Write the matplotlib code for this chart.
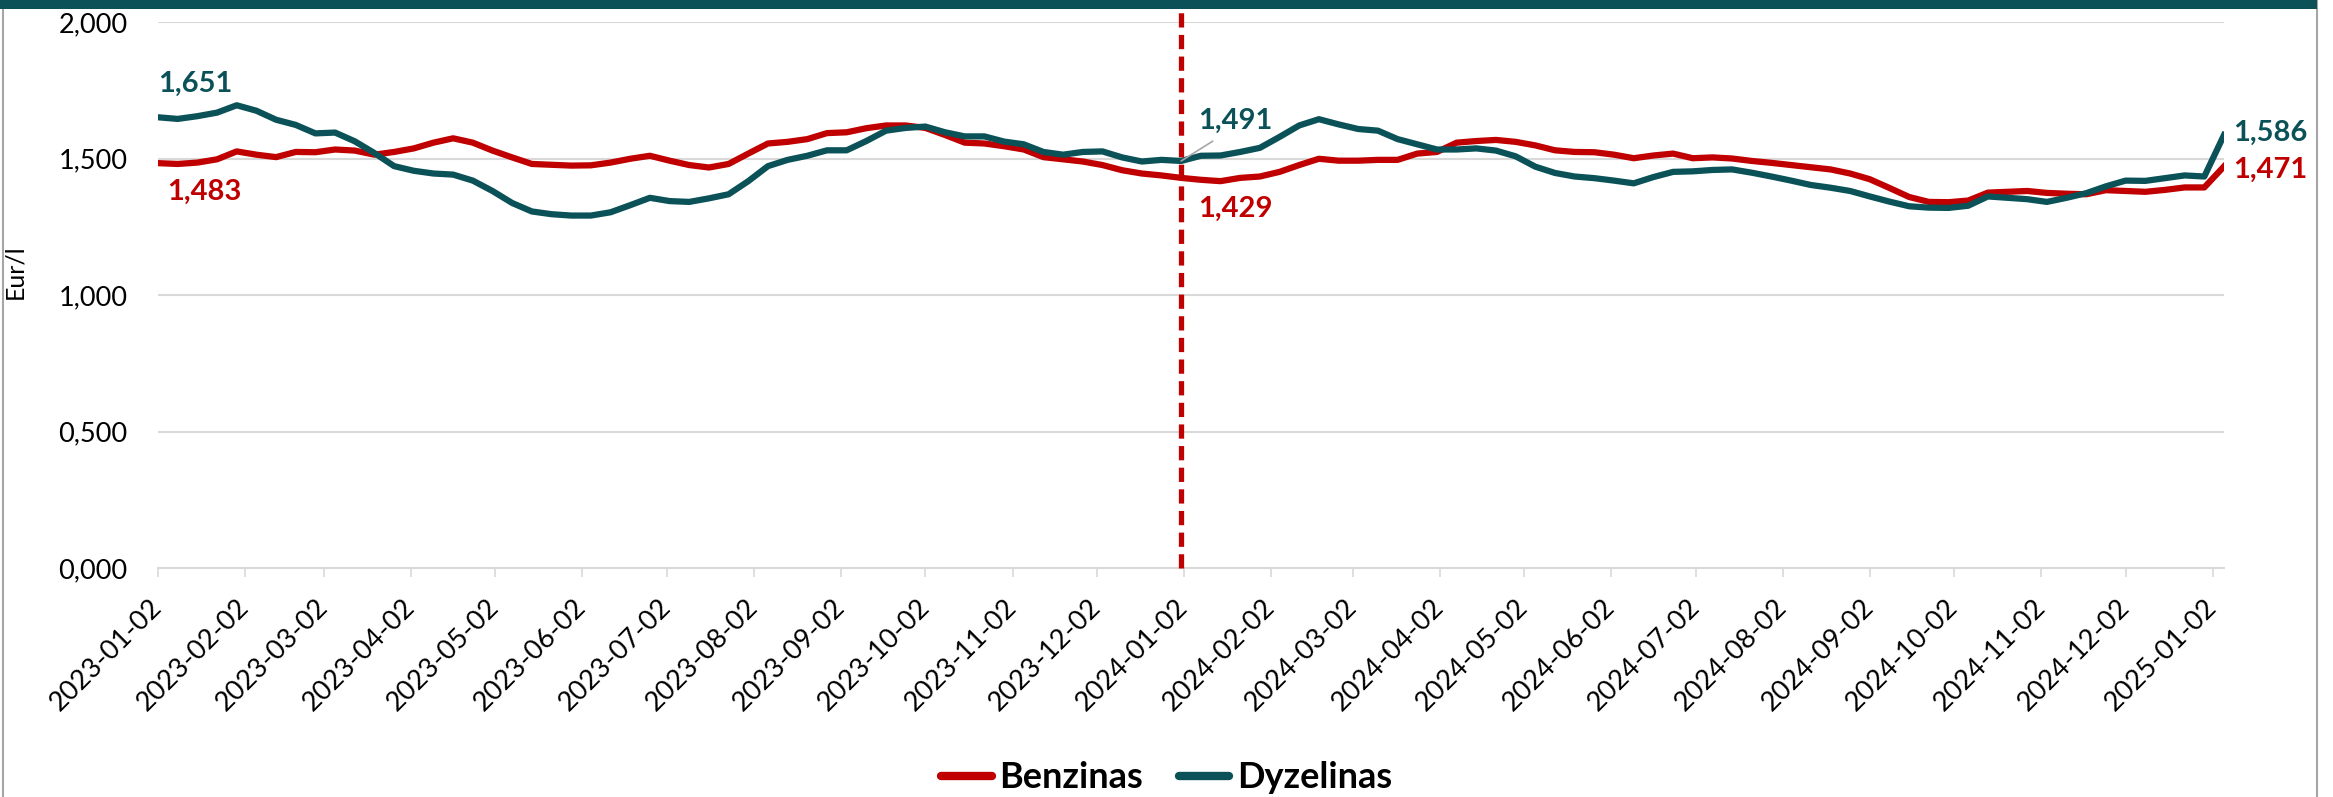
import numpy as np
import pandas as pd
import matplotlib
matplotlib.use("Agg")
import matplotlib.pyplot as plt
import matplotlib.dates as mdates
from matplotlib.ticker import FuncFormatter, MultipleLocator
from matplotlib.patches import Rectangle

savaites = pd.date_range("2023-01-02", "2025-01-06", freq="W-MON")

benzinas = [1.483, 1.480, 1.485, 1.497, 1.526, 1.514, 1.505, 1.524, 1.523, 1.533,
            1.529, 1.514, 1.524, 1.537, 1.558, 1.574, 1.558, 1.529, 1.504, 1.480,
            1.477, 1.474, 1.475, 1.485, 1.499, 1.510, 1.492, 1.476, 1.467, 1.480,
            1.518, 1.555, 1.561, 1.571, 1.593, 1.596, 1.611, 1.621, 1.621, 1.612,
            1.586, 1.558, 1.555, 1.545, 1.533, 1.505, 1.497, 1.489, 1.476, 1.457,
            1.445, 1.438, 1.429, 1.422, 1.417, 1.429, 1.434, 1.451, 1.476, 1.499,
            1.492, 1.492, 1.495, 1.495, 1.518, 1.524, 1.558, 1.564, 1.568, 1.561,
            1.548, 1.530, 1.524, 1.523, 1.514, 1.501, 1.511, 1.518, 1.501, 1.504,
            1.500, 1.491, 1.484, 1.476, 1.468, 1.460, 1.445, 1.424, 1.392, 1.359,
            1.341, 1.340, 1.346, 1.375, 1.378, 1.381, 1.374, 1.371, 1.369, 1.384,
            1.381, 1.378, 1.385, 1.394, 1.394, 1.471]

dyzelinas = [1.651, 1.645, 1.655, 1.668, 1.695, 1.675, 1.642, 1.623, 1.592, 1.595,
             1.563, 1.520, 1.472, 1.455, 1.445, 1.441, 1.419, 1.381, 1.337, 1.306,
             1.296, 1.291, 1.291, 1.303, 1.329, 1.356, 1.344, 1.341, 1.354, 1.369,
             1.417, 1.472, 1.495, 1.510, 1.530, 1.530, 1.564, 1.602, 1.612, 1.617,
             1.596, 1.581, 1.581, 1.562, 1.552, 1.524, 1.514, 1.524, 1.526, 1.504,
             1.489, 1.495, 1.491, 1.510, 1.511, 1.524, 1.539, 1.579, 1.621, 1.644,
             1.625, 1.608, 1.602, 1.571, 1.552, 1.533, 1.533, 1.537, 1.529, 1.508,
             1.470, 1.447, 1.434, 1.428, 1.419, 1.409, 1.432, 1.451, 1.453, 1.458,
             1.460, 1.448, 1.434, 1.419, 1.403, 1.393, 1.381, 1.361, 1.342, 1.325,
             1.320, 1.319, 1.327, 1.361, 1.356, 1.351, 1.341, 1.356, 1.373, 1.398,
             1.419, 1.418, 1.428, 1.438, 1.434, 1.586]

riba = pd.Timestamp("2024-01-01")

raudona = "#C00000"
zalia = "#0B5258"
pilka = "#D9D9D9"

plt.rcParams["font.family"] = ["Lato", "DejaVu Sans"]

W, H = 2333, 797
fig = plt.figure(figsize=(W / 100, H / 100), dpi=100)
ax = fig.add_axes([158 / W, 229 / H, (2224 - 158) / W, (775 - 229) / H])

# remelis ir virsutine juosta
fig.patches.append(Rectangle((3 / W, -0.01), (2317 - 3) / W, 1.02, transform=fig.transFigure,
                             fill=False, edgecolor="#A6A6A6", lw=1.5))
fig.patches.append(Rectangle((0, (H - 9) / H), 2317 / W, 9 / H, transform=fig.transFigure,
                             facecolor="#0B5157", edgecolor="none"))

ax.plot(savaites, benzinas, color=raudona, lw=4.5, solid_joinstyle="round", label="Benzinas", zorder=3)
ax.plot(savaites, dyzelinas, color=zalia, lw=4.5, solid_joinstyle="round", label="Dyzelinas", zorder=3)

ax.plot([riba, riba], [0, 2.07], color=raudona, lw=3.8, dashes=(2.7, 1.4), clip_on=False, zorder=4)

ax.set_ylim(0, 2.0)
ax.set_xlim(savaites[0], savaites[-1])
ax.yaxis.set_major_locator(MultipleLocator(0.5))
ax.yaxis.set_major_formatter(FuncFormatter(lambda v, p: f"{v:.3f}".replace(".", ",")))
ax.grid(axis="y", color=pilka, lw=1.5, zorder=0)
ax.set_axisbelow(True)

ax.xaxis.set_major_locator(mdates.MonthLocator(bymonthday=2))
ax.xaxis.set_major_formatter(mdates.DateFormatter("%Y-%m-%d"))
for s in ["top", "right", "left"]:
    ax.spines[s].set_visible(False)
ax.spines["bottom"].set_color(pilka)
ax.spines["bottom"].set_linewidth(1.5)
ax.tick_params(axis="x", length=6.5, width=1.2, color=pilka, pad=19, labelsize=19.5)
ax.tick_params(axis="y", length=0, pad=22, labelsize=19.5)
for t in ax.get_xticklabels():
    t.set_rotation(45)
    t.set_ha("right")
    t.set_va("center")
    t.set_rotation_mode("anchor")

fig.text(15 / W, 1 - 272 / H, "Eur/l", rotation=90, ha="center", va="center", fontsize=18)

def zyme(i, reiksmes, spalva, dx, dy, linija=False):
    kw = {}
    if linija:
        kw["arrowprops"] = dict(arrowstyle="-", color="#A6A6A6", lw=1.2, relpos=(0.35, 0),
                                shrinkA=6, shrinkB=0)
    ax.annotate(f"{reiksmes[i]:.3f}".replace(".", ","), xy=(savaites[i], reiksmes[i]),
                xytext=(dx, dy), textcoords="offset pixels", ha="left", va="center",
                color=spalva, fontsize=21, fontweight="bold", annotation_clip=False, **kw)

k = list(savaites).index(riba)
zyme(0, dyzelinas, zalia, 0, 33)
zyme(0, benzinas, raudona, 9, -29)
zyme(k, dyzelinas, zalia, 17, 40, linija=True)
zyme(k, benzinas, raudona, 17, -31)
zyme(len(savaites) - 1, dyzelinas, zalia, 9, 2)
zyme(len(savaites) - 1, benzinas, raudona, 9, -3)

leg = fig.legend(loc="center", bbox_to_anchor=(0.5, 19 / H), ncol=2, frameon=False,
                 prop={"size": 26, "weight": "bold"}, handlelength=1.4, handletextpad=0.2,
                 columnspacing=1.0)
for l in leg.get_lines():
    l.set_linewidth(6)
    l.set_solid_capstyle("round")

fig.savefig("out.png", dpi=100)
